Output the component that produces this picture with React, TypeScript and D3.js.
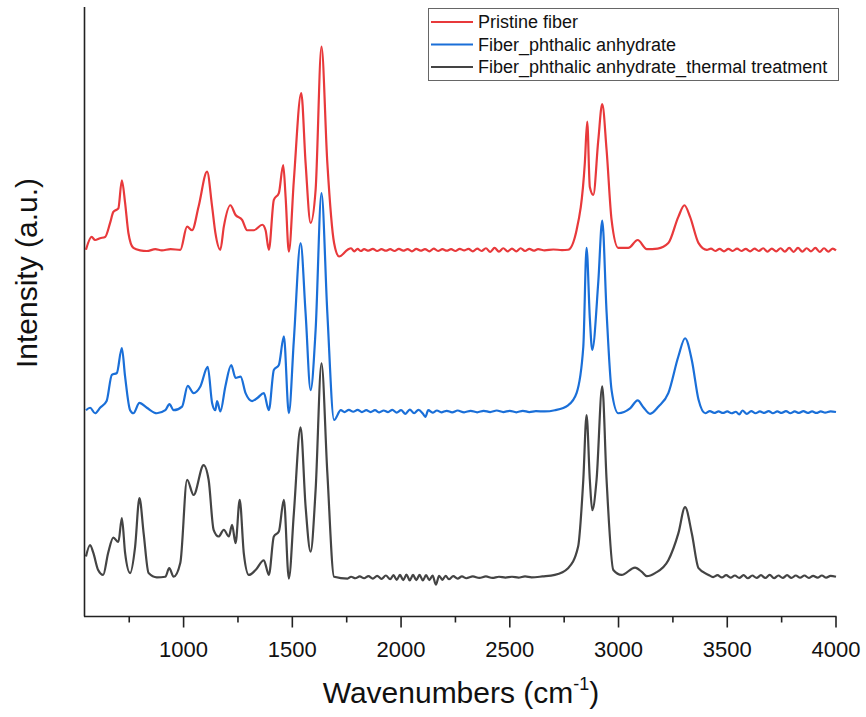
import * as d3 from 'd3';

// wavenumber (cm-1), intensity (a.u., already offset as in the original stacked plot)
const pristine: [number, number][] = [
  [551, 60.2], [577, 62.3], [593, 61.8], [616, 62.1], [639, 62.3], [662, 64.6], [677, 66.4], [700, 67.0],
  [716, 71.6], [731, 67.9], [746, 63.0], [769, 60.5], [800, 60.1], [831, 60.0], [870, 60.3], [900, 60.1],
  [940, 60.3], [985, 60.2], [1016, 64.0], [1039, 63.4], [1069, 67.3], [1108, 73.0], [1131, 67.3],
  [1146, 63.0], [1169, 60.2], [1185, 64.0], [1215, 67.5], [1239, 65.9], [1269, 65.1], [1292, 63.4],
  [1323, 63.4], [1362, 64.3], [1377, 63.4], [1392, 60.2], [1415, 68.4], [1438, 69.5], [1458, 74.1],
  [1469, 68.9], [1484, 59.9], [1507, 71.6], [1541, 85.9], [1561, 74.4], [1584, 64.6], [1607, 70.0],
  [1634, 93.5], [1661, 74.4], [1692, 61.3], [1715, 59.1], [1754, 60.2],
  [1770, 60.45], [1785, 59.95], [1800, 60.35], [1815, 60.0], [1830, 60.3], [1850, 60.05], [1870, 60.35],
  [1890, 60.0], [1910, 60.3], [1930, 60.05], [1950, 60.3], [1970, 60.0], [1990, 60.35], [2010, 60.05],
  [2030, 60.3], [2050, 59.95], [2070, 60.35], [2090, 60.05], [2110, 60.3], [2130, 59.95], [2150, 60.4],
  [2170, 60.0], [2190, 60.3], [2210, 60.05], [2230, 60.3], [2250, 60.0], [2270, 60.35], [2290, 60.1],
  [2310, 60.35], [2330, 59.95], [2350, 60.4], [2370, 60.0], [2390, 60.45], [2410, 59.85], [2430, 60.5],
  [2450, 59.9], [2470, 60.45], [2490, 59.95], [2510, 60.4], [2530, 59.95], [2550, 60.45], [2570, 60.0],
  [2590, 60.35], [2610, 60.05], [2630, 60.3], [2660, 60.1], [2700, 60.25], [2740, 60.15], [2768, 60.2],
  [2807, 63.4], [2845, 74.4], [2856, 81.2],
  [2868, 70.5], [2884, 69.2], [2907, 78.2], [2925, 84.1], [2945, 76.6], [2968, 65.1], [2999, 60.5],
  [3045, 60.5], [3088, 61.8], [3130, 60.3], [3180, 60.4], [3229, 61.3], [3275, 65.6], [3303, 67.5],
  [3329, 65.6], [3368, 61.3], [3406, 60.2], [3425, 60.4], [3445, 60.0], [3465, 60.35], [3485, 59.95],
  [3505, 60.35], [3525, 60.0], [3545, 60.4], [3565, 60.0], [3585, 60.35], [3605, 59.95], [3625, 60.4],
  [3645, 60.0], [3665, 60.45], [3685, 59.9], [3705, 60.4], [3725, 59.95], [3745, 60.45], [3765, 59.9],
  [3785, 60.5], [3805, 59.85], [3825, 60.5], [3845, 59.9], [3865, 60.45], [3885, 59.95], [3905, 60.5],
  [3925, 59.85], [3945, 60.45], [3965, 59.9], [3985, 60.4], [4000, 60.1],
];

const anhydrate: [number, number][] = [
  [551, 33.9], [570, 34.3], [593, 33.4], [616, 34.3], [646, 35.4], [670, 39.7], [693, 40.0], [716, 44.1],
  [731, 39.4], [754, 33.9], [769, 33.4], [797, 35.1], [831, 34.3], [877, 33.4], [916, 33.9], [935, 34.9],
  [954, 33.9], [993, 34.5], [1019, 37.9], [1046, 36.7], [1077, 37.8], [1111, 41.0], [1131, 35.1],
  [1146, 33.9], [1154, 35.4], [1169, 33.7], [1192, 37.8], [1219, 41.3], [1239, 39.2], [1262, 39.4],
  [1285, 36.7], [1315, 35.4], [1339, 35.9], [1369, 36.7], [1392, 33.9], [1415, 40.5], [1438, 41.3],
  [1461, 46.0], [1484, 33.4], [1507, 45.4], [1538, 61.3], [1561, 49.8], [1584, 37.2], [1607, 47.0],
  [1634, 69.5], [1661, 49.8], [1692, 32.3], [1723, 33.9],
  [1740, 33.6], [1760, 33.95], [1780, 33.65], [1800, 33.95], [1820, 33.6], [1840, 33.9], [1860, 33.6],
  [1880, 33.9], [1900, 33.55], [1920, 33.85], [1940, 33.6], [1960, 33.95], [1980, 33.5], [2000, 33.9],
  [2020, 33.3], [2040, 34.0], [2060, 33.4], [2080, 33.95], [2100, 33.35], [2112, 32.8], [2125, 33.9],
  [2145, 33.5], [2165, 33.85], [2185, 33.55], [2210, 33.8], [2235, 33.55], [2260, 33.85], [2290, 33.55],
  [2320, 33.8], [2350, 33.55], [2380, 33.8], [2410, 33.6], [2440, 33.85], [2470, 33.6], [2500, 33.8],
  [2530, 33.55], [2560, 33.8], [2590, 33.6], [2620, 33.75], [2660, 33.7], [2707, 33.9], [2768, 34.7],
  [2807, 36.7], [2838, 44.3], [2853, 60.5], [2868, 49.0],
  [2879, 43.8], [2907, 55.0], [2925, 65.0], [2945, 50.0], [2968, 37.2], [2999, 33.4], [3053, 34.2],
  [3088, 35.5], [3114, 34.4], [3145, 33.3], [3184, 34.5], [3229, 36.7], [3275, 42.7], [3306, 45.7],
  [3337, 42.1], [3368, 35.6], [3399, 33.4], [3420, 33.75], [3440, 33.45], [3460, 33.7], [3480, 33.45],
  [3500, 33.7], [3520, 33.4], [3540, 33.65], [3555, 33.2], [3570, 33.85], [3590, 33.3], [3610, 33.75],
  [3630, 33.4], [3650, 33.7], [3670, 33.45], [3690, 33.75], [3710, 33.4], [3730, 33.7], [3750, 33.45],
  [3770, 33.75], [3790, 33.4], [3810, 33.7], [3830, 33.45], [3850, 33.75], [3870, 33.45], [3890, 33.7],
  [3910, 33.45], [3930, 33.7], [3950, 33.5], [3975, 33.7], [4000, 33.6],
];

const thermal: [number, number][] = [
  [551, 9.9], [570, 11.8], [585, 10.5], [607, 7.7], [630, 6.9], [653, 10.5], [677, 13.0], [700, 12.3],
  [716, 16.2], [731, 10.5], [754, 7.2], [777, 11.5], [797, 19.5], [816, 13.8], [839, 7.2], [877, 6.5],
  [916, 6.6], [934, 8.0], [954, 6.6], [985, 8.9], [1016, 22.5], [1046, 20.0], [1092, 24.9], [1115, 22.5],
  [1138, 14.3], [1161, 13.2], [1185, 14.3], [1208, 13.2], [1223, 15.1], [1239, 12.1], [1258, 19.2],
  [1277, 10.4], [1300, 6.9], [1331, 7.7], [1369, 9.3], [1392, 6.9], [1415, 13.2], [1438, 14.0],
  [1461, 19.2], [1484, 6.3], [1507, 17.0], [1538, 31.1], [1561, 18.1], [1584, 10.7], [1607, 20.8],
  [1634, 41.6], [1661, 23.6], [1692, 6.6], [1754, 6.3],
  [1770, 6.6], [1790, 6.35], [1810, 6.65], [1830, 6.35], [1850, 6.7], [1870, 6.3], [1890, 6.75],
  [1910, 6.25], [1930, 6.8], [1950, 6.2], [1965, 6.85], [1980, 6.1], [1995, 6.9], [2010, 6.05],
  [2025, 6.95], [2040, 6.0], [2055, 6.9], [2070, 6.05], [2085, 6.9], [2100, 6.0], [2115, 6.85],
  [2130, 6.05], [2145, 6.8], [2160, 5.3], [2175, 6.75], [2190, 6.1], [2205, 6.75], [2220, 6.2],
  [2240, 6.7], [2260, 6.3], [2280, 6.65], [2300, 6.35], [2330, 6.65], [2360, 6.4], [2390, 6.65],
  [2420, 6.4], [2450, 6.6], [2480, 6.45], [2510, 6.6], [2540, 6.45], [2570, 6.65], [2600, 6.5],
  [2650, 6.65], [2707, 6.9], [2768, 8.0], [2814, 11.5], [2838, 22.5],
  [2853, 33.1], [2868, 22.5], [2879, 17.5], [2899, 22.5], [2925, 37.8], [2945, 22.5], [2976, 7.7],
  [3014, 6.9], [3076, 8.1], [3107, 7.4], [3130, 6.7], [3168, 7.2], [3229, 9.3], [3275, 13.7],
  [3306, 18.0], [3337, 13.7], [3368, 8.0], [3414, 6.9], [3435, 6.55], [3455, 6.85], [3475, 6.5],
  [3495, 6.85], [3515, 6.45], [3535, 6.8], [3555, 6.4], [3575, 6.85], [3595, 6.35], [3615, 6.8],
  [3635, 6.4], [3655, 6.85], [3675, 6.4], [3695, 6.9], [3715, 6.35], [3735, 6.8], [3755, 6.4],
  [3775, 6.85], [3795, 6.4], [3815, 6.8], [3835, 6.45], [3855, 6.8], [3875, 6.4], [3895, 6.75],
  [3915, 6.45], [3935, 6.8], [3955, 6.45], [3975, 6.75], [4000, 6.6],
];

const seriesNames = ['Pristine fiber', 'Fiber_phthalic anhydrate', 'Fiber_phthalic anhydrate_thermal treatment'];
const seriesData = [pristine, anhydrate, thermal];
const seriesColors = ['#e8393b', '#1a6fd8', '#444444'];

const majorTicks = [1000, 1500, 2000, 2500, 3000, 3500, 4000];
const minorTicks = [750, 1250, 1750, 2250, 2750, 3250, 3750];

const W = 866;
const H = 717;
const FONT = '"Liberation Sans", Arial, sans-serif';

export default function App() {
  const x = d3.scaleLinear().domain([542, 4000]).range([84, 836]);
  const y = d3.scaleLinear().domain([0, 100]).range([617, 7]);
  const line = d3
    .line<[number, number]>()
    .x(d => x(d[0]))
    .y(d => y(d[1]))
    .curve(d3.curveMonotoneX);

  const axisY = 616.5;

  return (
    <svg width={W} height={H} style={{ position: 'absolute', left: 0, top: 0, background: '#fff' }} fontFamily={FONT}>
      {/* spectra */}
      {seriesData.map((s, i) => (
        <path key={i} d={line(s) || ''} fill="none" stroke={seriesColors[i]} strokeWidth={2.2} strokeLinejoin="round" />
      ))}

      {/* axes */}
      <line x1={84.5} x2={84.5} y1={7} y2={axisY} stroke="#222" strokeWidth={1.6} />
      <line x1={84} x2={836.5} y1={axisY} y2={axisY} stroke="#222" strokeWidth={1.6} />
      {majorTicks.map(t => (
        <g key={t}>
          <line x1={x(t)} x2={x(t)} y1={axisY} y2={axisY + 11} stroke="#222" strokeWidth={1.6} />
          <text x={x(t)} y={657} textAnchor="middle" fontSize={22} fill="#111">{t}</text>
        </g>
      ))}
      {minorTicks.map(t => (
        <line key={t} x1={x(t)} x2={x(t)} y1={axisY} y2={axisY + 6} stroke="#222" strokeWidth={1.6} />
      ))}

      {/* axis titles */}
      <text x={461} y={703} textAnchor="middle" fontSize={30} fill="#111">
        Wavenumbers (cm<tspan fontSize={18} dy={-13}>-1</tspan><tspan dy={13}>)</tspan>
      </text>
      <text transform="translate(37,273) rotate(-90)" textAnchor="middle" fontSize={30} fill="#111">
        Intensity (a.u.)
      </text>

      {/* legend */}
      <rect x={428.5} y={8.5} width={410} height={72} fill="#fff" stroke="#666" strokeWidth={1} />
      {seriesNames.map((n, i) => {
        const ry = 22 + i * 22.5;
        return (
          <g key={n}>
            <line x1={431} x2={473} y1={ry} y2={ry} stroke={seriesColors[i]} strokeWidth={2.2} />
            <text x={478} y={ry} dy="0.35em" fontSize={18} fill="#111">{n}</text>
          </g>
        );
      })}
    </svg>
  );
}
